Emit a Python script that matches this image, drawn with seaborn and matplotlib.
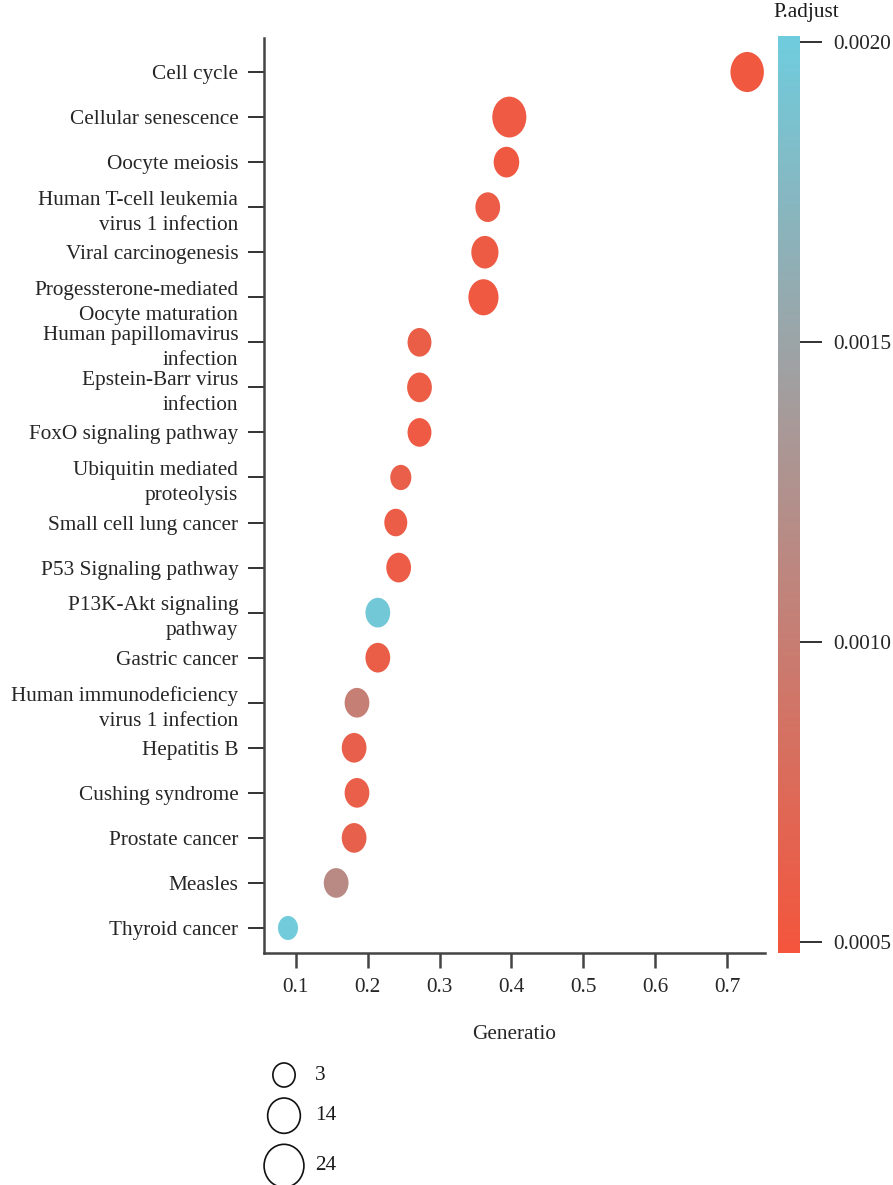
import numpy as np
import pandas as pd
import matplotlib
matplotlib.use("Agg")
import matplotlib.pyplot as plt
from matplotlib.path import Path
from matplotlib.transforms import Affine2D
from matplotlib.colors import LinearSegmentedColormap, Normalize
from matplotlib.colorbar import ColorbarBase
import seaborn as sns

# ---- KEGG enrichment results ----
pathways = [
    "Cell cycle",
    "Cellular senescence",
    "Oocyte meiosis",
    "Human T-cell leukemia\nvirus 1 infection",
    "Viral carcinogenesis",
    "Progessterone-mediated\nOocyte maturation",
    "Human papillomavirus\ninfection",
    "Epstein-Barr virus\ninfection",
    "FoxO signaling pathway",
    "Ubiquitin mediated\nproteolysis",
    "Small cell lung cancer",
    "P53 Signaling pathway",
    "P13K-Akt signaling\npathway",
    "Gastric cancer",
    "Human immunodeficiency\nvirus 1 infection",
    "Hepatitis B",
    "Cushing syndrome",
    "Prostate cancer",
    "Measles",
    "Thyroid cancer",
]
gene_ratio = [0.728, 0.397, 0.393, 0.367, 0.363, 0.361, 0.272, 0.272, 0.272, 0.246,
              0.239, 0.243, 0.214, 0.214, 0.185, 0.181, 0.185, 0.181, 0.156, 0.089]
gene_count = [20, 21, 9, 8, 11, 15, 7, 8, 7, 4,
              6, 8, 8, 8, 8, 8, 8, 8, 8, 3]
p_adjust = [0.00052, 0.00055, 0.00053, 0.00058, 0.00056, 0.00054, 0.00060, 0.00057,
            0.00055, 0.00061, 0.00059, 0.00058, 0.00196, 0.00060, 0.00103, 0.00062,
            0.00061, 0.00063, 0.00116, 0.00199]

size_breaks = [3, 14, 24]
x_ticks = [0.1, 0.2, 0.3, 0.4, 0.5, 0.6, 0.7]
cbar_ticks = [0.0005, 0.0010, 0.0015, 0.0020]

df = pd.DataFrame({"Description": pathways, "GeneRatio": gene_ratio,
                   "Count": gene_count, "p.adjust": p_adjust})

# ---- style ----
sns.set_theme(style="white")
plt.rcParams["font.family"] = ["Liberation Serif", "DejaVu Serif"]
plt.rcParams["text.color"] = "#1a1a1a"
FS = 15.3

W, H = 893, 1185
fig = plt.figure(figsize=(W / 100, H / 100), dpi=100)

cmap = LinearSegmentedColormap.from_list("padj", ["#F4553C", "#6FCCDD"])
p_norm = Normalize(vmin=0.000482, vmax=0.00201)

# slightly tall ellipse used as the dot marker
ASPECT = 1.2
ellipse = Path.unit_circle().transformed(Affine2D().scale(1.0, ASPECT))
size_range = (300, 960)
size_norm = (3, 24)

ax = fig.add_axes([264 / W, 1 - 953 / H, (765 - 264) / W, (953 - 38) / H])
sns.scatterplot(data=df, x="GeneRatio", y="Description", hue="p.adjust",
                size="Count", palette=cmap, hue_norm=p_norm, sizes=size_range,
                size_norm=size_norm, marker=ellipse, linewidth=0, legend=False,
                ax=ax)

ax.set_xlim(0.0556, 0.7528)
ax.set_ylim(len(pathways) - 1 + 0.555, -0.755)
ax.set_xticks(x_ticks)
ax.set_xticklabels([f"{t:.1f}" for t in x_ticks], fontsize=FS)
ax.set_yticks(range(len(pathways)))
ax.set_yticklabels(pathways, fontsize=FS, linespacing=1.42)
ax.set_xlabel("Generatio", fontsize=FS, labelpad=20)
ax.set_ylabel("")
for side in ("top", "right"):
    ax.spines[side].set_visible(False)
for side in ("left", "bottom"):
    ax.spines[side].set_color("#444444")
    ax.spines[side].set_linewidth(1.8)
ax.tick_params(axis="y", length=11.5, width=1.3, color="#222222", pad=7, left=True)
ax.tick_params(axis="x", length=11, width=1.8, color="#444444", pad=7, bottom=True)

# ---- colour bar ----
cax = fig.add_axes([778 / W, 1 - 953 / H, 22 / W, (953 - 36) / H])
cb = ColorbarBase(cax, cmap=cmap, norm=p_norm, orientation="vertical")
cb.outline.set_visible(False)
cb.set_ticks(cbar_ticks)
cb.set_ticklabels([f"{t:.4f}" for t in cbar_ticks])
cax.tick_params(axis="y", length=16, width=1.3, color="#222222", pad=8,
                labelsize=FS, right=True)
fig.text(773 / W, 1 - 13 / H, "P.adjust", fontsize=FS, ha="left", va="center")

# ---- size key ----
def area_for(count):
    lo, hi = size_norm
    return size_range[0] + (count - lo) / (hi - lo) * (size_range[1] - size_range[0])

key_marker = Path.unit_circle().transformed(Affine2D().scale(1.0, 1.08))
kax = fig.add_axes([0, 0, 1, 1])
kax.set_xlim(0, W)
kax.set_ylim(H, 0)
kax.axis("off")
heights_px = [np.sqrt(area_for(c)) / 0.72 for c in size_breaks]
gap = 11.0
key_y = []
y = 1075.0
for i, h in enumerate(heights_px):
    if i > 0:
        y += heights_px[i - 1] / 2 + h / 2 + gap
    key_y.append(y)
key_x = np.full(len(size_breaks), 284.0)
kax.scatter(key_x, key_y, s=[area_for(c) for c in size_breaks], marker=key_marker,
            facecolor="white", edgecolor="#111111", linewidth=1.2)
for c, yy in zip(size_breaks, key_y):
    kax.text(key_x[0] + 31, yy, str(c), fontsize=FS, va="center", ha="left")

fig.savefig("out.png", dpi=100)
